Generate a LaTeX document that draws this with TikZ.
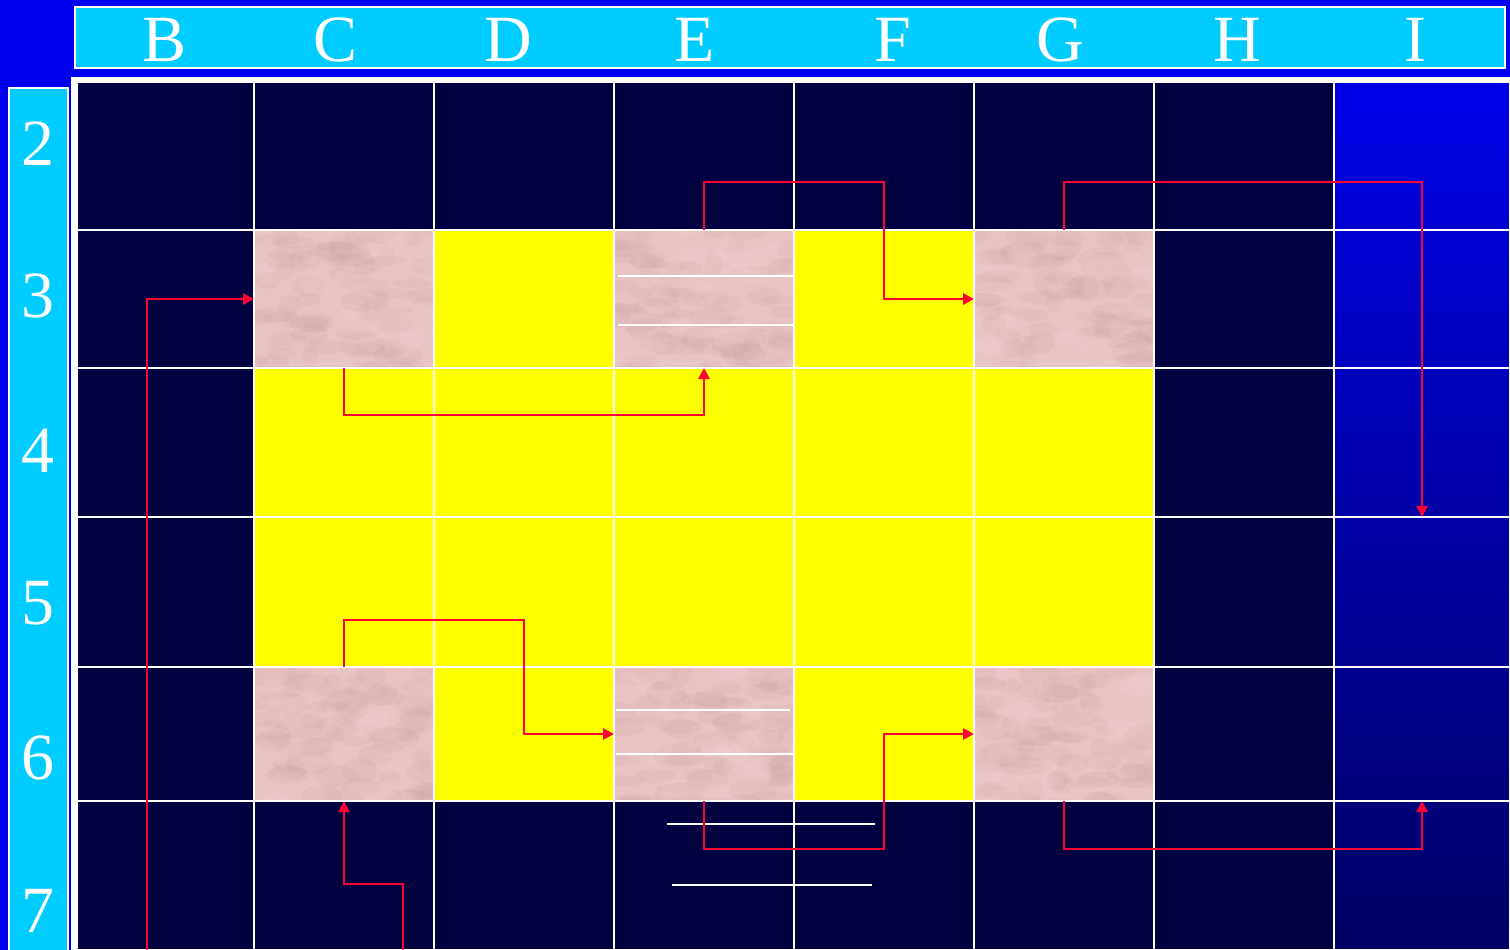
\documentclass[tikz,border=0pt]{standalone}
\usepackage{fontspec}
\setmainfont{Liberation Serif}
\usetikzlibrary{arrows.meta,calc}
\definecolor{bgblue}{RGB}{0,0,238}
\definecolor{hdrcyan}{RGB}{0,204,255}
\definecolor{navy}{RGB}{0,0,64}
\definecolor{cellpink}{RGB}{233,194,195}
\definecolor{pinkdark}{RGB}{190,140,148}
\definecolor{pinklight}{RGB}{250,218,220}
\definecolor{cellyellow}{RGB}{255,255,0}
\definecolor{arrowred}{RGB}{255,0,51}
\definecolor{itop}{RGB}{0,0,232}
\definecolor{ibot}{RGB}{0,0,100}
\begin{document}
\begin{tikzpicture}[x=1pt,y=-1pt,
  cellbase/.style={draw=white,line width=2.2pt,inner sep=0pt,outer sep=0pt,rectangle},
  dk/.style={cellbase,fill=navy},
  yl/.style={cellbase,fill=cellyellow},
  pk/.style={cellbase,fill=cellpink},
  ic/.style={cellbase},
  hbar/.style={draw=white,line width=2.5pt,fill=hdrcyan,inner sep=0pt,outer sep=0pt},
  lbl/.style={text=white,font=\fontsize{66}{66}\selectfont,anchor=base,inner sep=0pt},
  flow/.style={draw=arrowred,line width=2.9pt,-{Triangle[length=11pt,width=11pt]}},
  wline/.style={draw=white,line width=2.5pt},
  mottle/.style={fill=#1,opacity=0.09}]
\useasboundingbox (0,0) rectangle (1510,950);
\fill[bgblue] (0,0) rectangle (1510,950);
% white frame behind grid
\fill[white] (71,77) rectangle (1515,955);
% gradient column I
\shade[top color=itop,bottom color=ibot] (1334,82) rectangle (1515,955);
% cells
\foreach \r/\ya/\yb/\cells in {
  2/82/230/{b/77/254/dk,c/254/434/dk,d/434/614/dk,e/614/794/dk,f/794/974/dk,g/974/1154/dk,h/1154/1334/dk,i/1334/1510/ic},
  3/230/368/{b/77/254/dk,c/254/434/pk,d/434/614/yl,e/614/794/pk,f/794/974/yl,g/974/1154/pk,h/1154/1334/dk,i/1334/1510/ic},
  4/368/517/{b/77/254/dk,c/254/434/yl,d/434/614/yl,e/614/794/yl,f/794/974/yl,g/974/1154/yl,h/1154/1334/dk,i/1334/1510/ic},
  5/517/667/{b/77/254/dk,c/254/434/yl,d/434/614/yl,e/614/794/yl,f/794/974/yl,g/974/1154/yl,h/1154/1334/dk,i/1334/1510/ic},
  6/667/801/{b/77/254/dk,c/254/434/pk,d/434/614/yl,e/614/794/pk,f/794/974/yl,g/974/1154/pk,h/1154/1334/dk,i/1334/1510/ic},
  7/801/950/{b/77/254/dk,c/254/434/dk,d/434/614/dk,e/614/794/dk,f/794/974/dk,g/974/1154/dk,h/1154/1334/dk,i/1334/1510/ic}}
{
  \foreach \c/\xa/\xb/\s in \cells {
    \node[\s,minimum width={(\xb-\xa)*1pt},minimum height={(\yb-\ya)*1pt}]
      (\c\r) at ({(\xa+\xb)/2},{(\ya+\yb)/2}) {};
  }
}
% soft mottled texture of the pink cells
\pgfmathsetseed{11}
\foreach \n in {c3,e3,g3,c6,e6,g6} {
  \begin{scope}
    \clip ([shift={(1.2,1.2)}]\n.north west) rectangle ([shift={(-1.2,-1.2)}]\n.south east);
    \foreach \k in {1,...,70} {
      \pgfmathsetmacro\px{rnd*180}
      \pgfmathsetmacro\py{rnd*150}
      \pgfmathsetmacro\ra{8+rnd*18}
      \pgfmathsetmacro\rb{4+rnd*9}
      \fill[mottle=pinkdark] ($(\n.north west)+(\px,\py)$) ellipse [x radius=\ra, y radius=\rb];
    }
    \foreach \k in {1,...,50} {
      \pgfmathsetmacro\px{rnd*180}
      \pgfmathsetmacro\py{rnd*150}
      \pgfmathsetmacro\ra{8+rnd*18}
      \pgfmathsetmacro\rb{4+rnd*9}
      \fill[mottle=pinklight] ($(\n.north west)+(\px,\py)$) ellipse [x radius=\ra, y radius=\rb];
    }
  \end{scope}
}
% white rules inside cells
\draw[wline] (618,276) -- (793,276);
\draw[wline] (618,325) -- (793,325);
\draw[wline] (616,710) -- (790,710);
\draw[wline] (616,754) -- (793,754);
\draw[wline] (667,824) -- (875,824);
\draw[wline] (672,885) -- (872,885);
% connectors
\coordinate (s4) at (147,950);
\coordinate (s8) at (403,950);
\draw[flow] (e3.north) -- ++(0,-48) -| (f3.center) -- (g3.west);
\draw[flow] (g3.north) -- ++(0,-48) -| (i4.south);
\draw[flow] (c3.south) -- ++(0,47) -| (e3.south);
\draw[flow] (s4) |- (c3.west);
\draw[flow] (c6.north) -- ++(0,-47) -| (d6.center) -- (e6.west);
\draw[flow] (e6.south) -- ++(0,48) -| (f6.center) -- (g6.west);
\draw[flow] (g6.south) -- ++(0,48) -| (i6.south);
\draw[flow] (s8) -- ++(0,-66) -| (c6.south);
% header bars
\node[hbar,minimum width=1430pt,minimum height=61pt] (hdr) at (790,37.5) {};
\node[hbar,minimum width=59pt,minimum height=870pt] (rows) at (38.5,523) {};
% labels
\node[lbl] (lB) at (165,62) {B};
\node[lbl] (lC) at (336,62) {C};
\node[lbl] (lD) at (508,62) {D};
\node[lbl] (lE) at (695,62) {E};
\node[lbl] (lF) at (893,62) {F};
\node[lbl] (lG) at (1060,62) {G};
\node[lbl] (lH) at (1237,62) {H};
\node[lbl] (lI) at (1415,62) {I};
\node[lbl] (n2) at (38,165) {2};
\node[lbl] (n3) at (38,317) {3};
\node[lbl] (n4) at (38,472) {4};
\node[lbl] (n5) at (38,624) {5};
\node[lbl] (n6) at (38,779) {6};
\node[lbl] (n7) at (38,932) {7};
\end{tikzpicture}
\end{document}
